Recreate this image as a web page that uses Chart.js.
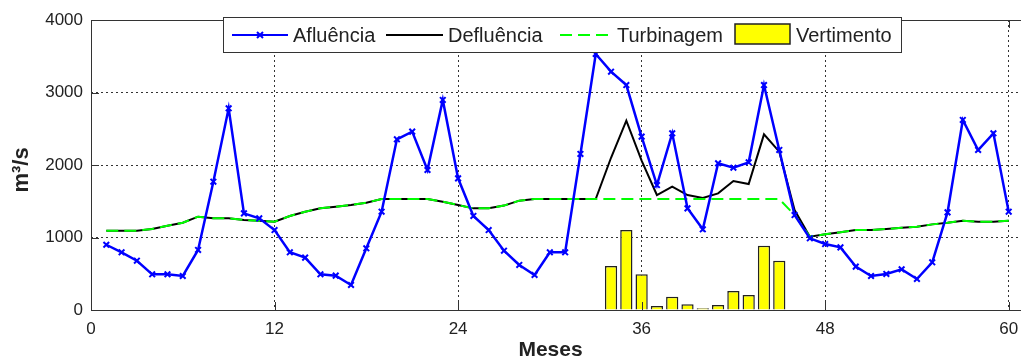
<!DOCTYPE html>
<html>
<head>
<meta charset="utf-8">
<script src="https://cdn.jsdelivr.net/npm/chart.js@4.4.1/dist/chart.umd.min.js"></script>
<style>
  html, body { margin: 0; padding: 0; background: #fff; overflow: hidden; }
  #wrap { width: 1030px; height: 360px; }
</style>
</head>
<body>
<div id="wrap"><canvas id="vazaoChart" width="1030" height="360"></canvas></div>
<script>
// months 1..60
const meses = Array.from({ length: 60 }, (_, i) => i + 1);
const xTicks = [0, 12, 24, 36, 48, 60];
const yTicks = [0, 1000, 2000, 3000, 4000];

const afluencia = [
    900, 796, 680, 492, 492, 469, 828, 1770, 2782, 1333, 1264, 1103,
    796, 722, 492, 474, 345, 851, 1356, 2354, 2460, 1931, 2897, 1816,
    1297, 1103, 818, 621, 483, 796, 796, 2152, 3531, 3287, 3103, 2391,
    1724, 2437, 1402, 1113, 2023, 1963, 2037, 3103, 2207, 1310, 989, 910,
    864, 598, 469, 497, 561, 428, 658, 1347, 2621, 2207, 2437, 1356
];

const turbinagem = [
    1094, 1094, 1094, 1117, 1163, 1204, 1287, 1264, 1264, 1241, 1232, 1218,
    1297, 1356, 1402, 1425, 1448, 1480, 1531, 1531, 1531, 1531, 1494, 1448,
    1402, 1402, 1440, 1508, 1531, 1531, 1531, 1531, 1531, 1531, 1531, 1531,
    1531, 1531, 1531, 1531, 1531, 1531, 1531, 1531, 1531, 1310, 1012, 1044,
    1071, 1103, 1103, 1117, 1135, 1149, 1181, 1204, 1232, 1218, 1218, 1232
];

const defluencia = [
    1094, 1094, 1094, 1117, 1163, 1204, 1287, 1264, 1264, 1241, 1232, 1218,
    1297, 1356, 1402, 1425, 1448, 1480, 1531, 1531, 1531, 1531, 1494, 1448,
    1402, 1402, 1440, 1508, 1531, 1531, 1531, 1531, 1531, 2100, 2612, 2060,
    1586, 1701, 1586, 1545, 1609, 1779, 1738, 2423, 2184, 1379, 1012, 1044,
    1071, 1103, 1103, 1117, 1135, 1149, 1181, 1204, 1232, 1218, 1218, 1232
];

const vertMeses = [34, 35, 36, 37, 38, 39, 40, 41, 42, 43, 44, 45];
const vertimento = [607, 1103, 492, 55, 184, 78, 25, 69, 262, 207, 887, 680];

const toXY = (xs, ys) => xs.map((x, i) => ({ x: x, y: ys[i] }));

const FONT = '"Liberation Sans", Arial, sans-serif';
const TXT = '#222';

// frame, inward ticks, axis titles and the MATLAB-style legend box
const framePlugin = {
    id: 'frame',
    afterDraw(chart) {
        const ctx = chart.ctx;
        const a = chart.chartArea;
        const xs = chart.scales.x;
        const ys = chart.scales.y;
        ctx.save();
        ctx.strokeStyle = '#333';
        ctx.lineWidth = 1;
        ctx.setLineDash([]);
        ctx.strokeRect(Math.round(a.left) + 0.5, Math.round(a.top) + 0.5,
            Math.round(a.right - a.left), Math.round(a.bottom - a.top));
        ctx.beginPath();
        xTicks.forEach(v => {
            const px = Math.round(xs.getPixelForValue(v)) + 0.5;
            ctx.moveTo(px, a.bottom); ctx.lineTo(px, a.bottom - 8);
            ctx.moveTo(px, a.top); ctx.lineTo(px, a.top + 8);
        });
        yTicks.forEach(v => {
            const py = Math.round(ys.getPixelForValue(v)) + 0.5;
            ctx.moveTo(a.left, py); ctx.lineTo(a.left + 8, py);
        });
        ctx.stroke();

        // axis titles
        ctx.fillStyle = TXT;
        ctx.textAlign = 'center';
        ctx.textBaseline = 'middle';
        ctx.font = 'bold 21px ' + FONT;
        ctx.fillText('Meses', (a.left + 1010) / 2, 350);
        ctx.save();
        ctx.translate(22, 170);
        ctx.rotate(-Math.PI / 2);
        ctx.font = 'bold 22px ' + FONT;
        ctx.fillText('m³/s', 0, 0);
        ctx.restore();

        // legend
        const ly = 35;
        ctx.fillStyle = '#fff';
        ctx.fillRect(223, 17, 678, 35);
        ctx.strokeStyle = '#333';
        ctx.strokeRect(223.5, 17.5, 678, 35);

        ctx.lineWidth = 2;
        ctx.strokeStyle = '#0000ff';
        ctx.beginPath(); ctx.moveTo(232, ly); ctx.lineTo(288, ly); ctx.stroke();
        ctx.beginPath();
        ctx.moveTo(257, ly - 3); ctx.lineTo(263, ly + 3);
        ctx.moveTo(263, ly - 3); ctx.lineTo(257, ly + 3);
        ctx.stroke();

        ctx.strokeStyle = '#000';
        ctx.beginPath(); ctx.moveTo(386, ly); ctx.lineTo(443, ly); ctx.stroke();

        ctx.strokeStyle = '#00ff00';
        ctx.setLineDash([12, 6]);
        ctx.beginPath(); ctx.moveTo(560, ly); ctx.lineTo(611, ly); ctx.stroke();
        ctx.setLineDash([]);

        ctx.fillStyle = '#ffff00';
        ctx.fillRect(735, 24, 55, 20);
        ctx.lineWidth = 1.5;
        ctx.strokeStyle = '#222';
        ctx.strokeRect(735, 24, 55, 20);

        ctx.fillStyle = TXT;
        ctx.font = '20px ' + FONT;
        ctx.textAlign = 'left';
        ctx.fillText('Afluência', 293, ly + 1);
        ctx.fillText('Defluência', 448, ly + 1);
        ctx.fillText('Turbinagem', 617, ly + 1);
        ctx.fillText('Vertimento', 796, ly + 1);
        ctx.restore();
    }
};

const ctx = document.getElementById('vazaoChart').getContext('2d');
new Chart(ctx, {
    type: 'line',
    data: {
        datasets: [
            {
                label: 'Afluência',
                data: toXY(meses, afluencia),
                borderColor: '#0000ff',
                backgroundColor: '#0000ff',
                borderWidth: 2.5,
                pointStyle: 'crossRot',
                pointRadius: 4,
                pointBorderWidth: 2,
                tension: 0,
                order: 1
            },
            {
                label: 'Defluência',
                data: toXY(meses, defluencia),
                borderColor: '#000',
                borderWidth: 2,
                pointRadius: 0,
                tension: 0,
                order: 3
            },
            {
                label: 'Turbinagem',
                data: toXY(meses, turbinagem),
                borderColor: '#00ff00',
                borderWidth: 2,
                borderDash: [12, 6],
                pointRadius: 0,
                tension: 0,
                order: 2
            },
            {
                type: 'bar',
                label: 'Vertimento',
                data: toXY(vertMeses, vertimento),
                backgroundColor: '#ffff00',
                borderColor: '#222',
                borderWidth: 1.5,
                barPercentage: 0.8,
                categoryPercentage: 1,
                order: 4
            }
        ]
    },
    options: {
        responsive: false,
        animation: false,
        layout: { padding: { top: 20, left: 0, right: 4, bottom: 0 } },
        plugins: {
            legend: { display: false },
            tooltip: { enabled: false }
        },
        scales: {
            x: {
                type: 'linear',
                min: 0,
                max: 61,
                offset: false,
                afterBuildTicks: (scale) => { scale.ticks = xTicks.map(v => ({ value: v })); },
                afterFit: (scale) => { scale.height = 50; },
                grid: { color: '#333', lineWidth: 1, drawTicks: false, offset: false },
                border: { display: false, dash: [2, 3] },
                ticks: {
                    padding: 9, color: TXT, font: { family: FONT, size: 17 }, maxRotation: 0,
                    callback: (v) => String(v)
                }
            },
            y: {
                min: 0,
                max: 4000,
                afterBuildTicks: (scale) => { scale.ticks = yTicks.map(v => ({ value: v })); },
                afterFit: (scale) => { scale.width = 91; },
                grid: { color: '#333', lineWidth: 1, drawTicks: false },
                border: { display: false, dash: [2, 3] },
                ticks: {
                    padding: 8, color: TXT, font: { family: FONT, size: 17 },
                    callback: (v) => String(v)
                }
            }
        }
    },
    plugins: [framePlugin]
});
</script>
</body>
</html>
